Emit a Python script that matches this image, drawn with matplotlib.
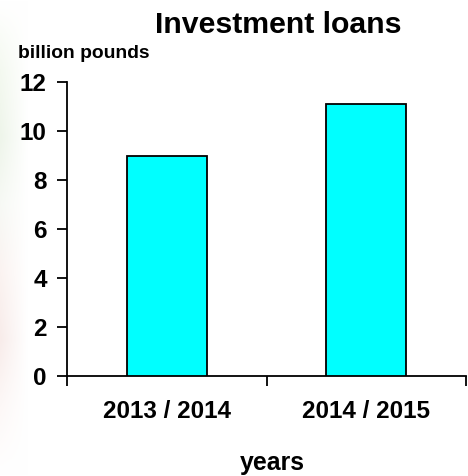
import numpy as np
import matplotlib
matplotlib.use('Agg')
import matplotlib.pyplot as plt
from matplotlib.colors import LinearSegmentedColormap

# Data
years = ['2013 / 2014', '2014 / 2015']
loans = [9.0, 11.1]
y_ticks = [0, 2, 4, 6, 8, 10, 12]

plt.rcParams['font.family'] = ['Liberation Sans', 'DejaVu Sans']
plt.rcParams['font.weight'] = 'bold'

fig = plt.figure(figsize=(4.68, 4.76), dpi=100)

# faint blurred strip on the left edge of the original picture
bg = fig.add_axes([0, 0, 28 / 468, 1], zorder=-1)
strip = LinearSegmentedColormap.from_list(
    'strip', ['#ffffff', '#f4f9f0', '#eef5ea', '#f7f9f5', '#fbf3f1', '#f8ecea', '#fdf8f7', '#ffffff'])
grad = np.linspace(0, 1, 200).reshape(-1, 1)
fade = np.linspace(1, 0, 30).reshape(1, -1)
img = strip(grad)[:, None, 0, :].repeat(30, axis=1)
img[..., :3] = 1 - (1 - img[..., :3]) * fade[..., None]
bg.imshow(img, aspect='auto', extent=[0, 1, 0, 1])
bg.axis('off')

ax = fig.add_axes([67 / 468, 1 - 376 / 476, 399 / 468, 294 / 476])
x = np.arange(len(years))
ax.bar(x, loans, width=0.4, color='#00ffff', edgecolor='black', linewidth=1.3, zorder=3)

ax.set_xlim(-0.5, len(years) - 0.5)
ax.set_ylim(0, 12)
ax.set_yticks(y_ticks)
ax.set_yticklabels([str(t) for t in y_ticks], fontsize=17.5, fontweight='bold')
ax.set_xticks(x)
ax.set_xticklabels(years, fontsize=17.5, fontweight='bold')
ax.set_xticks(np.arange(len(years) + 1) - 0.5, minor=True)

ax.tick_params(axis='y', direction='out', length=7, width=1.3, pad=7.5)
ax.tick_params(axis='x', which='major', length=0, pad=17)
ax.tick_params(axis='x', which='minor', direction='out', length=7, width=1.3)

for side in ['top', 'right']:
    ax.spines[side].set_visible(False)
for side in ['left', 'bottom']:
    ax.spines[side].set_linewidth(1.3)

fig.text(278 / 468, 1 - 33 / 476, 'Investment loans', ha='center', va='baseline',
         fontsize=21.8, fontweight='bold')
fig.text(18 / 468, 1 - 58 / 476, 'billion pounds', ha='left', va='baseline',
         fontsize=13.9, fontweight='bold')
fig.text(272 / 468, 1 - 470 / 476, 'years', ha='center', va='baseline',
         fontsize=17.9, fontweight='bold')

fig.savefig('out.png', dpi=100)
